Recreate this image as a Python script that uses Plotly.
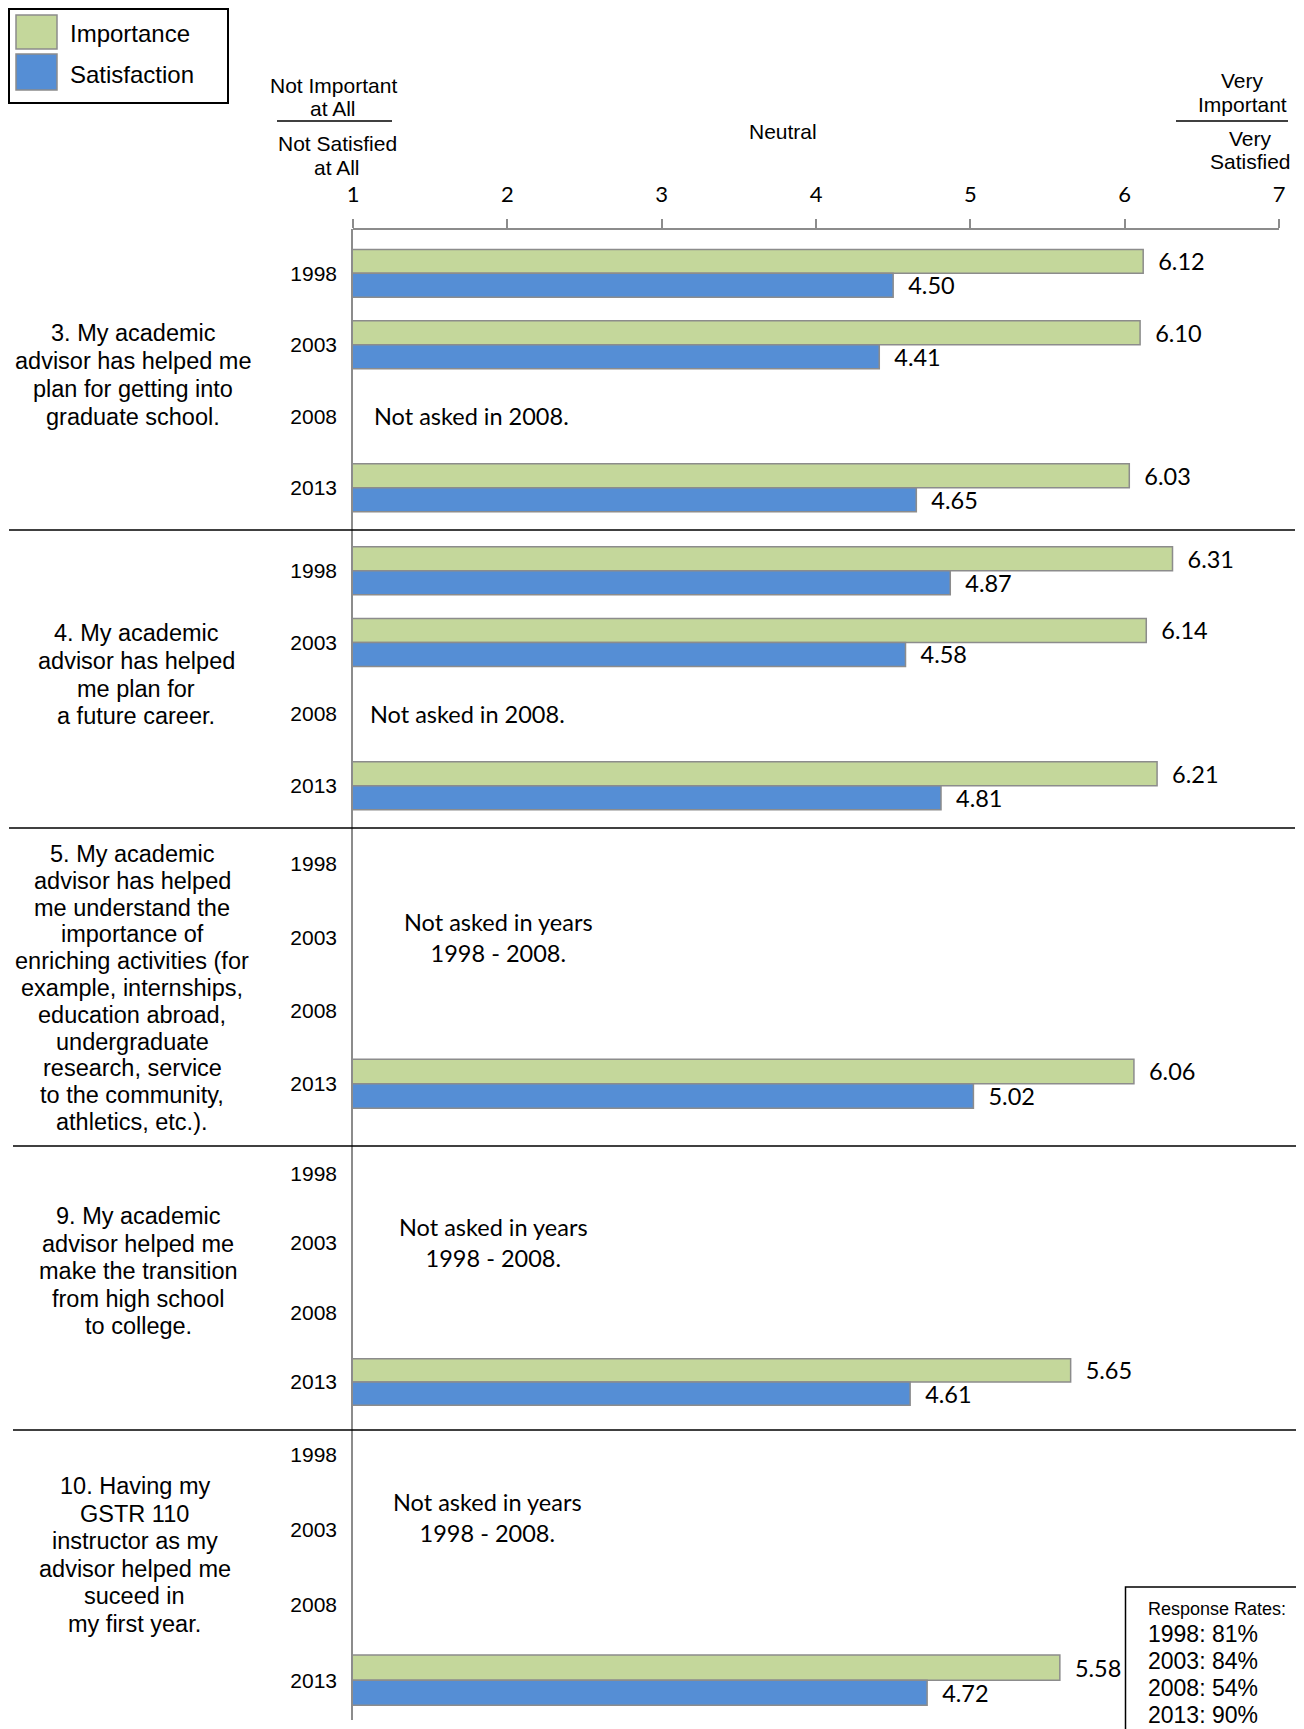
import plotly.graph_objects as go

# ---------------- data ----------------
years = ["1998", "2003", "2008", "2013"]
scale_ticks = [1, 2, 3, 4, 5, 6, 7]
series_names = ["Importance", "Satisfaction"]

question_lines = [
    ["3. My academic", "advisor has helped me", "plan for getting into", "graduate school."],
    ["4. My academic", "advisor has helped", "me plan for", "a future career."],
    ["5. My academic", "advisor has helped", "me understand the", "importance of",
     "enriching activities (for", "example, internships,", "education abroad,",
     "undergraduate", "research, service", "to the community,", "athletics, etc.)."],
    ["9. My academic", "advisor helped me", "make the transition", "from high school", "to college."],
    ["10. Having my", "GSTR 110", "instructor as my", "advisor helped me", "suceed in", "my first year."],
]

importance = [
    [6.12, 6.10, None, 6.03],
    [6.31, 6.14, None, 6.21],
    [None, None, None, 6.06],
    [None, None, None, 5.65],
    [None, None, None, 5.58],
]
satisfaction = [
    [4.50, 4.41, None, 4.65],
    [4.87, 4.58, None, 4.81],
    [None, None, None, 5.02],
    [None, None, None, 4.61],
    [None, None, None, 4.72],
]

not_asked_notes = [
    "Not asked in 2008.",
    "Not asked in 2008.",
    "Not asked in years<br>1998 - 2008.",
    "Not asked in years<br>1998 - 2008.",
    "Not asked in years<br>1998 - 2008.",
]
response_title = "Response Rates:"
response_rates = ["1998: 81%", "2003: 84%", "2008: 54%", "2013: 90%"]

# ---------------- layout constants (screen pixels, page has 8px body margin) ----------------
OFF = 8
SW, SH = 1304, 1729
W, H = SW - OFF, SH - OFF
AX_L, AX_R, AX_T, AX_B = 353, 1279, 229, 1720   # plot area on screen
ML, MR, MT, MB = AX_L - OFF, SW - AX_R, AX_T - OFF, SH - AX_B
PW, PH = AX_R - AX_L, AX_B - AX_T

def px_x(px):
    return (px - AX_L) / PW

def px_y(py):
    return (AX_B - py) / PH

GREEN = "#C4D79B"
BLUE = "#558ED5"
GRAY = "#8c8c8c"
ARIAL = "Liberation Sans, Arial, sans-serif"
CALI = "Lato, Carlito, sans-serif"

group_bounds = [229, 530, 828, 1146, 1430, 1720]
y_ranges = [[3.59, -0.62], [3.59, -0.57], [3.85, -0.49], [3.69, -0.39], [3.53, -0.33]]
q_center_x = [133, 136, 132, 138, 134.5]
q_first_y = [333, 633, 854, 1216, 1486]
q_spacing = [28, 27.8, 26.8, 27.5, 27.6]
note_pos = [  # (x data, y category index, xanchor)
    (1.12, 2.0, "left"),
    (1.10, 2.0, "left"),
    (1.94, 1.0, "center"),
    (1.91, 0.99, "center"),
    (1.87, 0.84, "center"),
]

fig = go.Figure()
layout_axes = {}
annotations = []
shapes = []

for i in range(5):
    yname = "y" if i == 0 else f"y{i+1}"
    for vals, col in ((importance[i], GREEN), (satisfaction[i], BLUE)):
        fig.add_trace(go.Bar(
            y=years, x=vals, orientation="h", xaxis="x", yaxis=yname,
            marker=dict(color=col, line=dict(color=GRAY, width=1.5)),
            texttemplate="\u00a0\u00a0%{x:.2f}", textposition="outside",
            textfont=dict(family=CALI, size=23.5, color="black"),
            cliponaxis=False, constraintext="none",
            showlegend=False, hoverinfo="skip",
        ))
    top, bot = group_bounds[i], group_bounds[i + 1]
    layout_axes["yaxis" if i == 0 else f"yaxis{i+1}"] = dict(
        type="category", categoryorder="array", categoryarray=years,
        range=y_ranges[i], domain=[px_y(bot), px_y(top)], anchor="x",
        showline=True, linecolor=GRAY, linewidth=1.5, ticks="",
        showgrid=False, zeroline=False, ticklabelstandoff=10,
        tickfont=dict(family=ARIAL, size=21, color="black"), fixedrange=True,
    )
    for j, line in enumerate(question_lines[i]):
        annotations.append(dict(
            x=px_x(q_center_x[i]), y=px_y(q_first_y[i] + j * q_spacing[i]),
            xref="paper", yref="paper", text=line, showarrow=False,
            xanchor="center", yanchor="middle",
            font=dict(family=ARIAL, size=23.5, color="black"),
        ))
    nx, ny, nanc = note_pos[i]
    annotations.append(dict(
        x=nx, y=ny, xref="x", yref=yname, text=not_asked_notes[i], showarrow=False,
        xanchor=nanc, yanchor="middle", align="center",
        font=dict(family=CALI, size=23.5, color="black"),
    ))

# separators between question groups
sep_x = [(9, 1295), (9, 1295), (13, 1301), (13, 1304)]
for k, (xa, xb) in enumerate(sep_x):
    yy = px_y(group_bounds[k + 1])
    shapes.append(dict(type="line", xref="paper", yref="paper",
                       x0=px_x(xa), x1=px_x(xb), y0=yy, y1=yy,
                       line=dict(color="black", width=1.5)))

# legend box
shapes.append(dict(type="rect", xref="paper", yref="paper",
                   x0=px_x(9), x1=px_x(228), y0=px_y(103), y1=px_y(9),
                   line=dict(color="black", width=2), fillcolor="white"))
for name, col, (ya, yb), yc in ((series_names[0], GREEN, (15, 49), 33),
                                (series_names[1], BLUE, (54, 90), 74)):
    shapes.append(dict(type="rect", xref="paper", yref="paper",
                       x0=px_x(16), x1=px_x(57), y0=px_y(yb), y1=px_y(ya),
                       line=dict(color=GRAY, width=1.5), fillcolor=col))
    annotations.append(dict(x=px_x(68), y=px_y(yc), xref="paper", yref="paper",
                            text=name, showarrow=False, xanchor="left", yanchor="middle",
                            font=dict(family=ARIAL, size=24, color="black")))

# scale end headers
header_items = [
    ("Not Important", 333, 85), ("at All", 333, 108),
    ("Not Satisfied", 337, 143), ("at All", 337, 168),
    ("Neutral", 783, 132),
    ("Very", 1242, 80), ("Important", 1242, 105),
    ("Very", 1250, 138), ("Satisfied", 1250, 161),
]
for txt, hx, hy in header_items:
    annotations.append(dict(x=px_x(hx), y=px_y(hy), xref="paper", yref="paper",
                            text=txt, showarrow=False, xanchor="center", yanchor="middle",
                            font=dict(family=ARIAL, size=21, color="black")))
for xa, xb in ((277, 392), (1176, 1288)):
    shapes.append(dict(type="line", xref="paper", yref="paper",
                       x0=px_x(xa), x1=px_x(xb), y0=px_y(121), y1=px_y(121),
                       line=dict(color="black", width=1.5)))

# response rate box
shapes.append(dict(type="rect", xref="paper", yref="paper",
                   x0=px_x(1125.5), x1=px_x(1312), y0=px_y(1740), y1=px_y(1587),
                   line=dict(color="black", width=1.5), fillcolor="white"))
annotations.append(dict(x=px_x(1146), y=px_y(1609), xref="paper", yref="paper",
                        text=response_title, showarrow=False, xanchor="left", yanchor="middle",
                        font=dict(family=ARIAL, size=18, color="black")))
for k, rr in enumerate(response_rates):
    annotations.append(dict(x=px_x(1146), y=px_y(1634 + k * 27), xref="paper", yref="paper",
                            text=rr, showarrow=False, xanchor="left", yanchor="middle",
                            font=dict(family=ARIAL, size=23, color="black")))

fig.update_layout(
    width=W, height=H,
    margin=dict(l=ML, r=MR, t=MT, b=MB, pad=0),
    paper_bgcolor="white", plot_bgcolor="white",
    barmode="group", bargap=0.33, bargroupgap=0,
    xaxis=dict(
        range=[1, 7], tickvals=scale_ticks, side="top", anchor="free", position=1,
        showline=True, linecolor=GRAY, linewidth=1.5,
        ticks="outside", ticklen=9, tickcolor=GRAY, tickwidth=1.5,
        showgrid=False, zeroline=False, ticklabelstandoff=8,
        tickfont=dict(family=CALI, size=22, color="black"), fixedrange=True,
    ),
    annotations=annotations, shapes=shapes,
    **layout_axes,
)

fig.write_html("out.html")
